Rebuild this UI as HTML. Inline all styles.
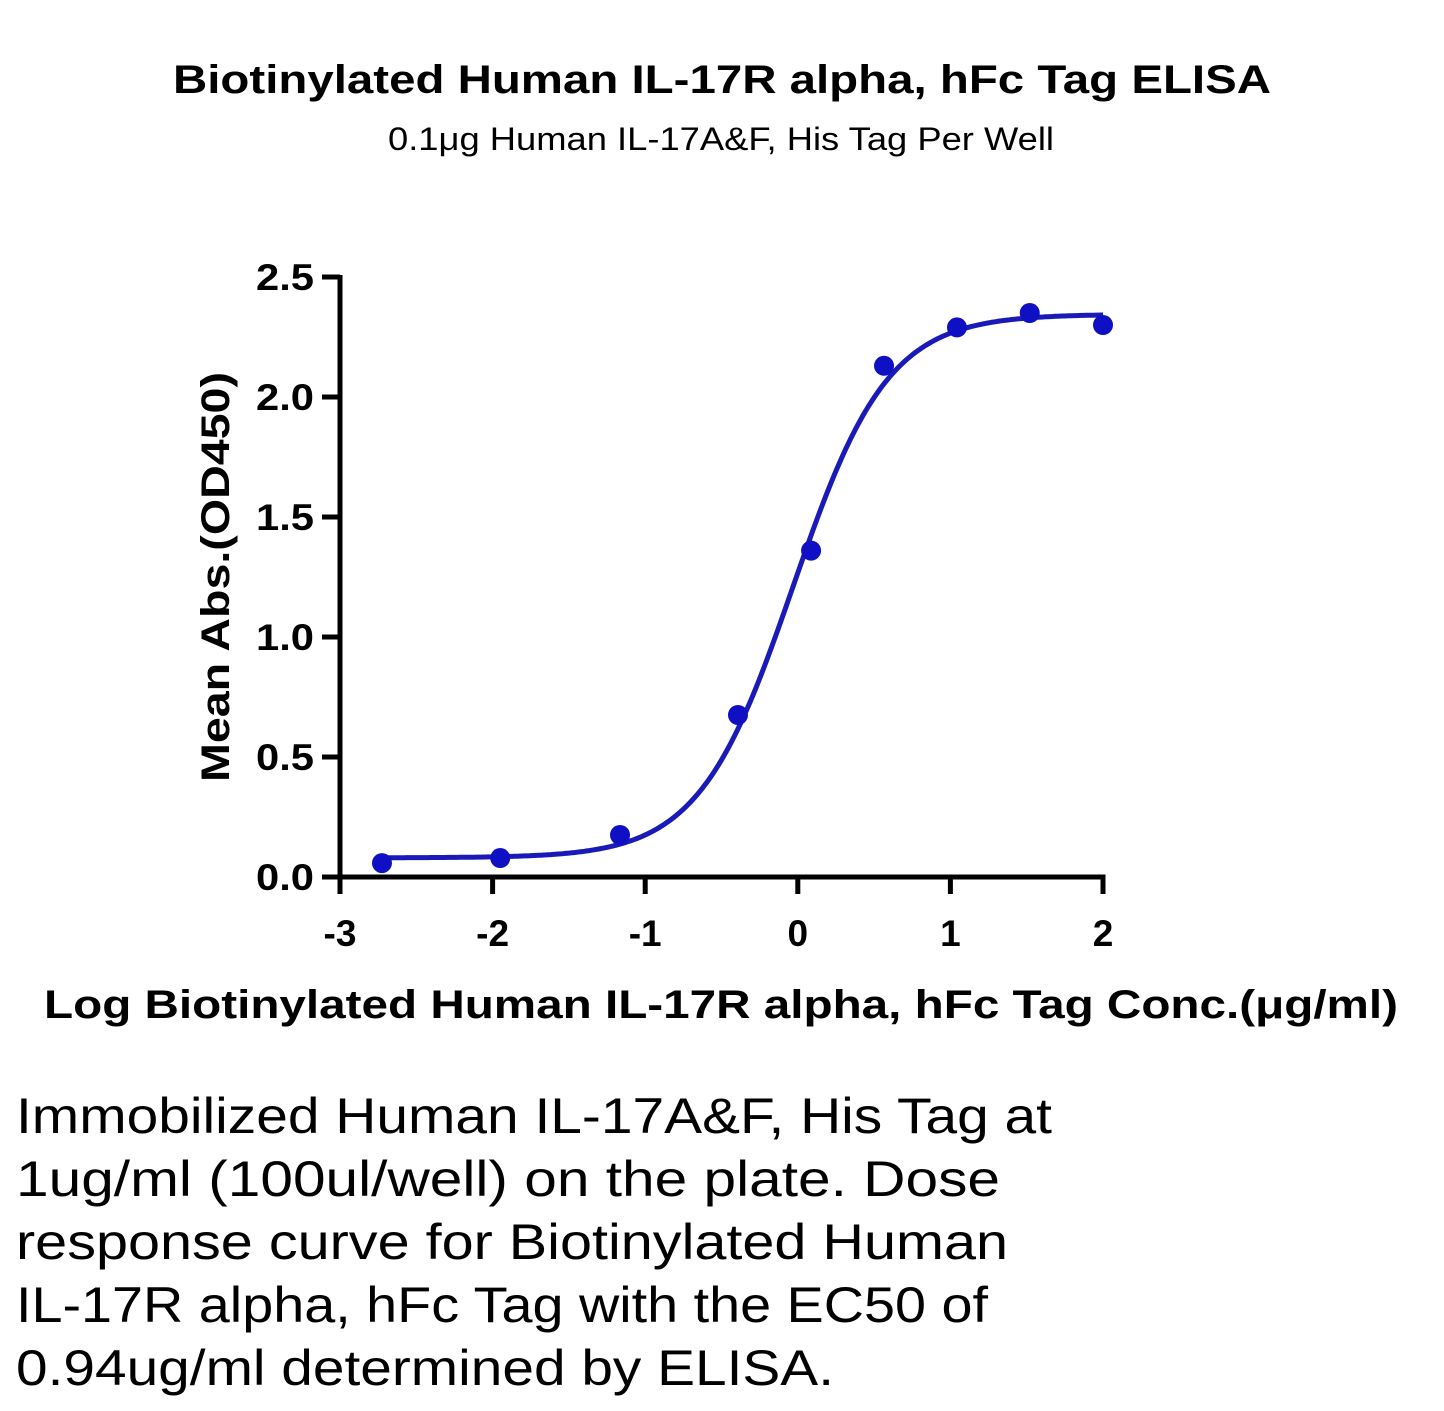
<!DOCTYPE html>
<html><head><meta charset="utf-8"><style>
html,body{margin:0;padding:0;background:#fff;}
svg{display:block;font-family:"Liberation Sans",sans-serif;}
</style></head><body>
<svg width="1444" height="1411" viewBox="0 0 1444 1411" xmlns="http://www.w3.org/2000/svg">
<text x="722" y="93" text-anchor="middle" font-weight="bold" font-size="40" textLength="1098" lengthAdjust="spacingAndGlyphs">Biotinylated Human IL-17R alpha, hFc Tag ELISA</text>
<text x="721" y="150" text-anchor="middle" font-size="32" textLength="666" lengthAdjust="spacingAndGlyphs">0.1μg Human IL-17A&amp;F, His Tag Per Well</text>
<g id="plot"></g>
<text transform="translate(229,577) rotate(-90)" text-anchor="middle" font-weight="bold" font-size="40" textLength="410" lengthAdjust="spacingAndGlyphs">Mean Abs.(OD450)</text>
<text x="721" y="1018" text-anchor="middle" font-weight="bold" font-size="40" textLength="1354" lengthAdjust="spacingAndGlyphs">Log Biotinylated Human IL-17R alpha, hFc Tag Conc.(μg/ml)</text>
<g font-size="50">
<text x="16" y="1133" textLength="1036" lengthAdjust="spacingAndGlyphs">Immobilized Human IL-17A&amp;F, His Tag at</text>
<text x="16" y="1196" textLength="984" lengthAdjust="spacingAndGlyphs">1ug/ml (100ul/well) on the plate. Dose</text>
<text x="16" y="1259" textLength="992" lengthAdjust="spacingAndGlyphs">response curve for Biotinylated Human</text>
<text x="16" y="1322" textLength="972" lengthAdjust="spacingAndGlyphs">IL-17R alpha, hFc Tag with the EC50 of</text>
<text x="16" y="1385" textLength="818" lengthAdjust="spacingAndGlyphs">0.94ug/ml determined by ELISA.</text>
</g>
</svg>
<script>
const xVals = [-2.725, -1.95, -1.165, -0.392, 0.087, 0.565, 1.043, 1.52, 2.0];
const yVals = [0.058, 0.079, 0.175, 0.675, 1.36, 2.13, 2.29, 2.35, 2.30];
const fitParams = [0.08, 2.345, -0.03, 1.4]; // bottom, top, logEC50, hill
const xTicks = [-3, -2, -1, 0, 1, 2];
const yTicks = [0, 0.5, 1, 1.5, 2, 2.5];
const yTickLabels = ["0.0","0.5","1.0","1.5","2.0","2.5"];
const NS = "http://www.w3.org/2000/svg";
const g = document.getElementById('plot');
const X = v => 340 + (v + 3) * (1103 - 340) / 5;
const Y = v => 877 - v * 240;
function mk(tag, attrs){const e=document.createElementNS(NS,tag);for(const k in attrs)e.setAttribute(k,attrs[k]);g.appendChild(e);return e;}
let e = mk('line',{x1:340,y1:275,x2:340,y2:880,stroke:'#000','stroke-width':5});


e = mk('line',{x1:337.5,y1:877,x2:1105.5,y2:877,stroke:'#000','stroke-width':5});


yTicks.forEach((t,i)=>{
  let l = mk('line',{x1:322,y1:Y(t),x2:340,y2:Y(t),stroke:'#000','stroke-width':5});
  
  
  let tx = mk('text',{x:314,y:Y(t)+13,'text-anchor':'end','font-weight':'bold','font-size':37,textLength:58,lengthAdjust:'spacingAndGlyphs'});
  tx.textContent = yTickLabels[i];
  
  
});
xTicks.forEach(t=>{
  let l = mk('line',{x1:X(t),y1:877,x2:X(t),y2:894,stroke:'#000','stroke-width':5});
  
  
  let tx = mk('text',{x:X(t),y:946,'text-anchor':'middle','font-weight':'bold','font-size':37});
  tx.textContent = String(t);
  
  
});
const [b,tp,ec,h] = fitParams;
let d = '';
for(let i=0;i<=300;i++){
  const x = -2.72 + i*(2.0+2.72)/300;
  const y = b + (tp-b)/(1+Math.pow(10,(ec-x)*h));
  d += (i?'L':'M') + X(x).toFixed(1) + ',' + Y(y).toFixed(1);
}
e = mk('path',{d:d,fill:'none',stroke:'#1a1ab8','stroke-width':5});


xVals.forEach((x,i)=>{
  const c = mk('circle',{cx:X(x),cy:Y(yVals[i]),r:10,fill:'#0f0fc4'});
  
  
});
</script>
</body></html>
